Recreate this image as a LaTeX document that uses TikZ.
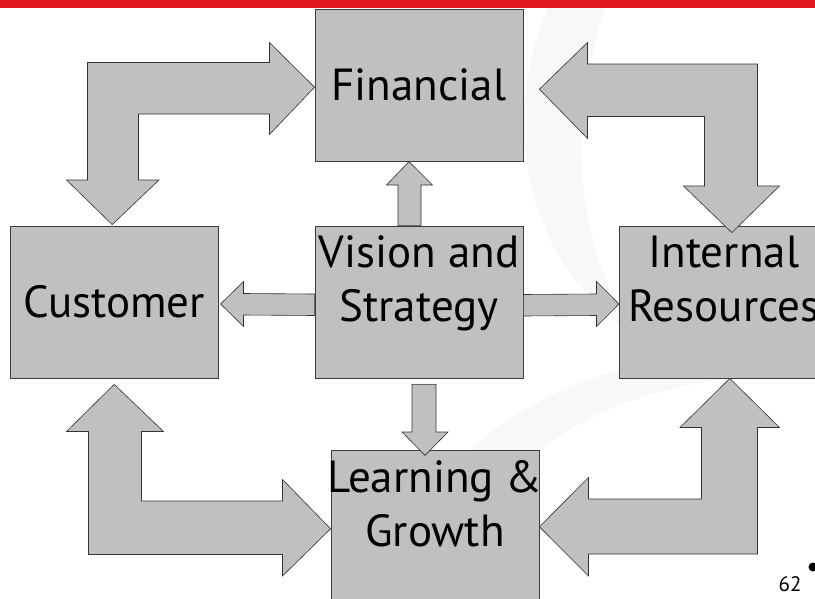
\documentclass[tikz,border=0pt]{standalone}
\usepackage{fontspec}
\setmainfont{PT Sans}
\usetikzlibrary{positioning,calc}
\definecolor{slidered}{RGB}{227,24,33}
\definecolor{boxgray}{RGB}{192,192,192}
\definecolor{edgegray}{RGB}{60,60,60}
\definecolor{markgray}{RGB}{248,248,248}

\begin{document}
\begin{tikzpicture}[
  x=1pt, y=-1pt,
  font=\fontsize{45}{54}\selectfont,
  box/.style={draw=edgegray, fill=boxgray, line width=0.8pt, minimum width=208pt, minimum height=152pt, inner sep=0pt, align=center},
  intext/.style={anchor=north, align=center, inner sep=0pt, yshift=-10pt},
  blk/.style={draw=black!80, fill=boxgray, line width=0.6pt, line join=miter}
]
\clip (0,0) rectangle (815,598);
\useasboundingbox (0,0) rectangle (815,598);
\fill[white] (0,0) rectangle (815,598);
% faint watermark behind the slide
\fill[markgray] (548,8) .. controls (500,120) and (520,260) .. (640,340) .. controls (575,250) and (565,130) .. (605,8) -- cycle;
\fill[markgray] (470,450) .. controls (560,370) and (680,345) .. (815,350) -- (815,372) .. controls (690,375) and (590,400) .. (515,470) -- cycle;
\fill[slidered] (0,0) rectangle (815,7.5);

% perspectives
\node[box, label={[intext, name=vis-t]north:Vision and\\Strategy}] (vis) at (419,302) {};
\node[box, above=64pt of vis] (fin) {Financial};
\node[box, left=96pt of vis] (cust) {Customer};
\node[box, right=96pt of vis, label={[intext, name=intr-t]north:Internal\\Resources}] (intr) {};
\node[box, below=72pt of vis, xshift=16pt, label={[intext, name=learn-t]north:Learning \&\\Growth}] (learn) {};

% vision and strategy outwards
\draw[blk] ($(vis.north)+(-21,0)$) |- (386.5,185) -- ($(fin.south)+(-10,0)$) -- (432.5,185) -| ($(vis.north)+(2,0)$) -- cycle;
\draw[blk] ($(vis.west)+(0,-8)$) -- (243.5,293.5) -- (243.5,281.5) -- ($(cust.east)+(2,2)$) -- (243.5,326.5) -- (243.5,315) -- ($(vis.west)+(0,13.5)$) -- cycle;
\draw[blk] ($(vis.east)+(0,-7.5)$) -- (596.5,294) -- (596.5,281.5) -- ($(intr.west)+(-0.5,2)$) -- (596.5,326.5) -- (596.5,315.5) -- ($(vis.east)+(0,14)$) -- cycle;
\draw[blk] ($(vis.south)+(-7,6)$) -- (412,432) -- (402,432) -- ($(learn.north)+(-10,5)$) -- (448,432) -- (436,432) -- ($(vis.south)+(17,6)$) -- cycle;

% two way links round the outside
\draw[blk] (87.5,62.5) -- (269.5,62.5) -- (269.5,42.5) -- ($(fin.west)+(0,2)$) -- (269.5,134.5) -- (269.5,114) -- (138.5,114) -- (138.5,180) -- (159,180) -- ($(cust.north)+(-2,-1)$) -- (66.5,180) -- (87.5,180) -- cycle;
\draw[blk] ($(fin.east)+(16,4)$) -- (587.5,42.5) -- (587.5,64) -- (757.5,64) -- (757.5,186) -- (779.5,186) -- ($(intr.north)+(8,7)$) -- (683.5,186) -- (704.5,186) -- (704.5,116.5) -- (587.5,116.5) -- (587.5,138.5) -- cycle;
\draw[blk] ($(cust.south)+(0,6)$) -- (163.5,431.5) -- (141.5,431.5) -- (141.5,501) -- (282.5,501) -- (282.5,479.5) -- ($(learn.west)+(0,2)$) -- (282.5,576) -- (282.5,554.5) -- (88.5,554.5) -- (88.5,431.5) -- (66.5,431.5) -- cycle;
\draw[blk] ($(intr.south)+(6,0)$) -- (779.5,427.5) -- (757.5,427.5) -- (757.5,554) -- (588.5,554) -- (588.5,576) -- (learn.east) -- (588.5,477.5) -- (588.5,499) -- (701.5,499) -- (701.5,427.5) -- (680,427.5) -- cycle;

% slide number
\node[font=\fontsize{21}{24}\selectfont, anchor=base east] (pgno) at (805,591) {62};
\fill (813,567) circle (4.5);
\end{tikzpicture}
\end{document}
